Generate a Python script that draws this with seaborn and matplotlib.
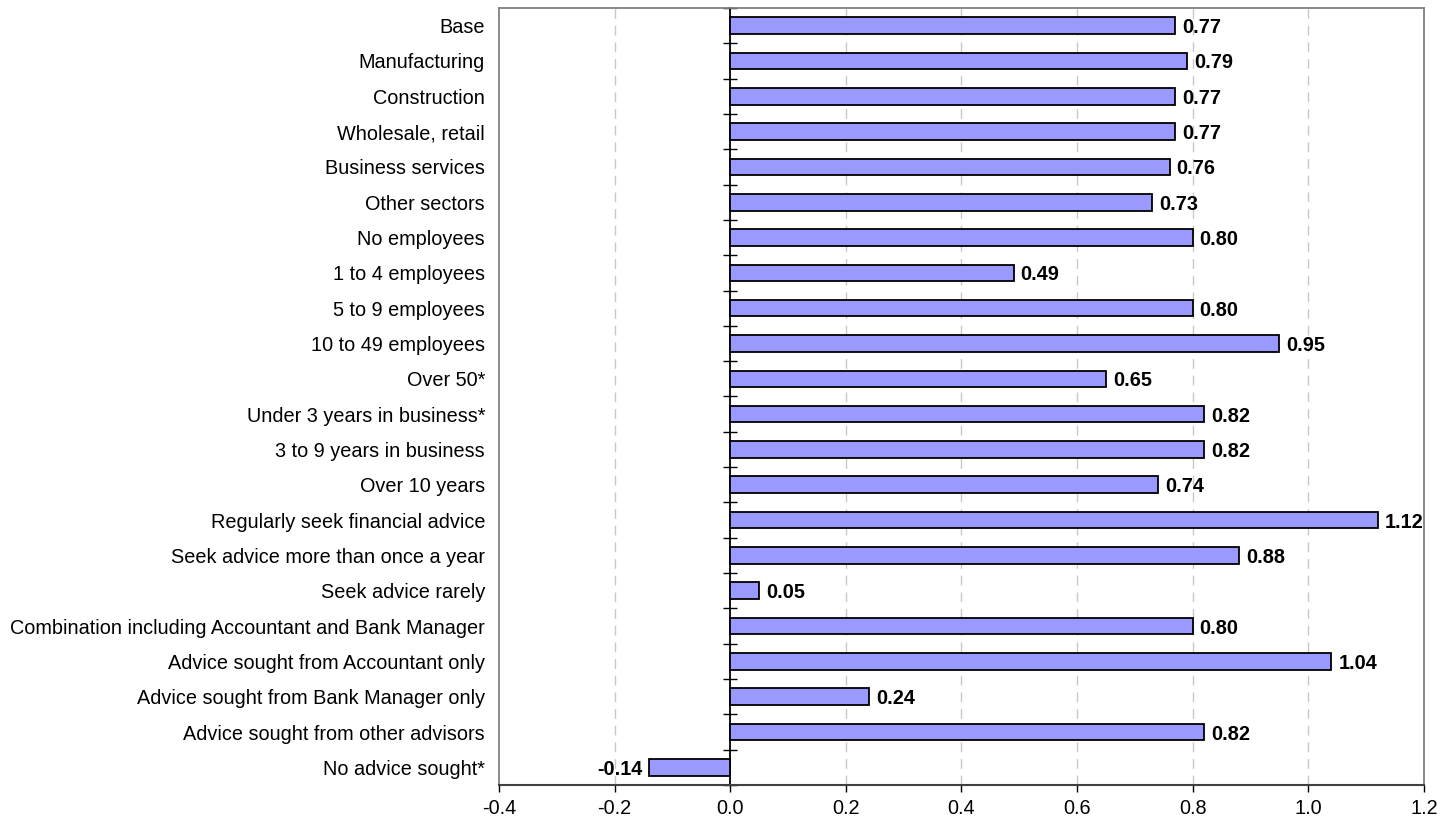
import matplotlib
matplotlib.use("Agg")
import matplotlib.pyplot as plt
import seaborn as sns
import pandas as pd
import numpy as np

categories = [
    "Base", "Manufacturing", "Construction", "Wholesale, retail",
    "Business services", "Other sectors", "No employees", "1 to 4 employees",
    "5 to 9 employees", "10 to 49 employees", "Over 50*",
    "Under 3 years in business*", "3 to 9 years in business", "Over 10 years",
    "Regularly seek financial advice", "Seek advice more than once a year",
    "Seek advice rarely", "Combination including Accountant and Bank Manager",
    "Advice sought from Accountant only", "Advice sought from Bank Manager only",
    "Advice sought from other advisors", "No advice sought*",
]
values = [0.77, 0.79, 0.77, 0.77, 0.76, 0.73, 0.80, 0.49, 0.80, 0.95, 0.65,
          0.82, 0.82, 0.74, 1.12, 0.88, 0.05, 0.80, 1.04, 0.24, 0.82, -0.14]
x_ticks = [-0.4, -0.2, 0.0, 0.2, 0.4, 0.6, 0.8, 1.0, 1.2]

sns.set_theme(style="white")
plt.rcParams["font.family"] = ["Liberation Sans", "DejaVu Sans"]
plt.rcParams["text.color"] = "black"
plt.rcParams["xtick.color"] = "black"
plt.rcParams["ytick.color"] = "black"

FS = 14.3

df = pd.DataFrame({"category": categories, "value": values})

fig = plt.figure(figsize=(14.56, 8.23), dpi=100)
ax = fig.add_axes([0.3427, 0.0462, 0.6353, 0.9441])

sns.barplot(data=df, y="category", x="value", orient="h", color="#9999FF",
            saturation=1, width=0.47, edgecolor="black", linewidth=1.3, ax=ax)

ax.set_xlim(-0.4, 1.2)
ax.set_ylim(len(categories) - 0.5, -0.5)
ax.set_xticks(x_ticks)
ax.set_xticklabels([f"{t:.1f}" for t in x_ticks], fontsize=FS)
ax.set_xlabel("")
ax.set_ylabel("")

# dashed vertical gridlines
for t in x_ticks[1:-1]:
    if t != 0.0:
        ax.axvline(t, color="#C8C8C8", linestyle=(0, (7, 5)), linewidth=1, zorder=0)

# category labels on the left, no tick marks
ax.tick_params(axis="y", length=0, pad=10, labelsize=FS, colors="black")
ax.tick_params(axis="x", direction="out", length=5, width=1, color="black",
               pad=5, labelsize=FS, bottom=True, labelcolor="black")

for side in ["left", "top", "right"]:
    ax.spines[side].set_color("#808080")
    ax.spines[side].set_linewidth(1.3)
ax.spines["bottom"].set_color("#404040")
ax.spines["bottom"].set_linewidth(1.5)

# value axis at zero with ticks between categories
sec = ax.secondary_yaxis(0.25)
sec.spines["left"].set_color("black")
sec.spines["left"].set_linewidth(1.3)
sec.set_yticks(np.arange(-0.5, len(categories) + 0.5, 1.0))
sec.set_yticklabels([])
sec.tick_params(axis="y", direction="inout", length=10, width=1, color="black")

# value labels
for i, v in enumerate(values):
    txt = f"{v:.2f}"
    if v >= 0:
        ax.annotate(txt, (v, i), xytext=(5, 0), textcoords="offset points",
                    ha="left", va="center_baseline", fontsize=FS,
                    fontweight="bold", color="black")
    else:
        ax.annotate(txt, (v, i), xytext=(-5, 0), textcoords="offset points",
                    ha="right", va="center_baseline", fontsize=FS,
                    fontweight="bold", color="black")

fig.savefig("out.png", dpi=100, facecolor="white")
